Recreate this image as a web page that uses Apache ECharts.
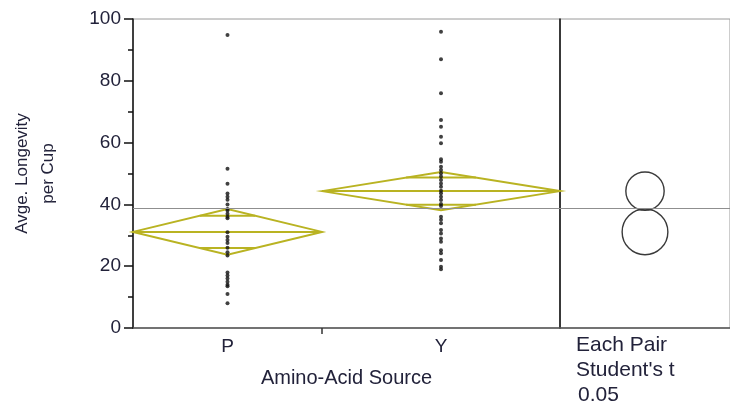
<!DOCTYPE html>
<html>
<head>
<meta charset="utf-8">
<script src="https://cdn.jsdelivr.net/npm/echarts@6/dist/echarts.min.js"></script>
<style>html,body{margin:0;padding:0;background:#fff;}#c{width:730px;height:404px;}</style>
</head>
<body>
<div id="c"></div>
<script>
// ---- data ----
const categories = ['P', 'Y'];
const groupCounts = [27, 34];
const pValues = [94.8, 51.5, 46.7, 43.5, 42.5, 41.5, 40, 38.5, 38, 37, 36, 35.5, 31, 29.5, 28.5, 27.5, 26, 24.5, 23.5, 18, 17, 16, 15, 14, 13.5, 11, 8];
const yValues = [95.9, 87, 76, 67.3, 65.1, 61.9, 59.8, 54.6, 53.8, 52.2, 51.1, 50.1, 49, 47.9, 46.8, 45.7, 44.4, 43.6, 42.5, 41.4, 40.1, 39.5, 36, 35, 33.9, 31.7, 30.6, 29, 27.9, 25.2, 24.2, 22, 19.8, 19];
const groupMeans = [31.1, 44.3];
const ciHalfWidths = [7.4, 6.2];
const grandMean = 38.9;
const yTickValues = [0, 20, 40, 60, 80, 100];
const testLabels = ['Each Pair', "Student's t", '0.05'];

// ---- build ----
const total = groupCounts.reduce((a, b) => a + b, 0);
const starts = [];
let acc = 0;
groupCounts.forEach(n => { starts.push(acc); acc += n; });
const centers = groupCounts.map((n, i) => starts[i] + n / 2);
const groupValues = [pValues, yValues];

const scatterData = [];
groupValues.forEach((vals, i) => vals.forEach(v => scatterData.push([centers[i], v])));

const diamondData = categories.map((c, i) => [starts[i], starts[i] + groupCounts[i], groupMeans[i], ciHalfWidths[i]]);
const circleData = categories.map((c, i) => [0.5, groupMeans[i], ciHalfWidths[i]]);

const font = 'Liberation Sans, Arial, sans-serif';
const textColor = '#22223a';
const diamondColor = '#b9b322';

const chart = echarts.init(document.getElementById('c'), null, {renderer: 'canvas'});
chart.setOption({
  animation: false,
  backgroundColor: '#fff',
  grid: [
    {left: 133, top: 19, width: 427, height: 309, show: true, borderColor: '#9a9a9a', borderWidth: 1},
    {left: 560, top: 19, width: 175, height: 309, show: true, borderColor: '#9a9a9a', borderWidth: 1}
  ],
  xAxis: [
    {
      gridIndex: 0, type: 'value', min: 0, max: total,
      axisLine: {show: true, onZero: false, lineStyle: {color: '#555', width: 1.5}},
      axisTick: {show: true, length: 6, customValues: [starts[1]], lineStyle: {color: '#333', width: 1.5}},
      axisLabel: {show: true, customValues: centers, margin: 9, fontSize: 19, fontFamily: font, color: textColor,
        formatter: v => { const i = centers.findIndex(c => Math.abs(c - v) < 1e-6); return i >= 0 ? categories[i] : ''; }},
      splitLine: {show: false},
      name: 'Amino-Acid Source', nameLocation: 'middle', nameGap: 40,
      nameTextStyle: {fontSize: 20, fontFamily: font, color: textColor}
    },
    {
      gridIndex: 1, type: 'value', min: 0, max: 1,
      axisLine: {show: true, onZero: false, lineStyle: {color: '#555', width: 1.5}},
      axisTick: {show: false}, axisLabel: {show: false}, splitLine: {show: false}
    }
  ],
  yAxis: [
    {
      gridIndex: 0, type: 'value', min: 0, max: 100, interval: 20,
      axisLine: {show: true, lineStyle: {color: '#111', width: 1.5}},
      axisTick: {show: true, length: 9, lineStyle: {color: '#111', width: 1.5}},
      minorTick: {show: true, splitNumber: 2, length: 5, lineStyle: {color: '#111', width: 1.5}},
      axisLabel: {margin: 12, fontSize: 19, fontFamily: font, color: textColor,
        formatter: v => yTickValues.includes(v) ? String(v) : ''},
      splitLine: {show: false},
      name: 'Avge. Longevity\nper Cup', nameLocation: 'middle', nameGap: 72,
      nameTextStyle: {fontSize: 17, fontFamily: font, color: textColor, lineHeight: 26}
    },
    {
      gridIndex: 1, type: 'value', min: 0, max: 100,
      axisLine: {show: true, lineStyle: {color: '#111', width: 1.5}},
      axisTick: {show: false}, axisLabel: {show: false}, splitLine: {show: false}
    }
  ],
  series: [
    {
      type: 'custom', xAxisIndex: 0, yAxisIndex: 0, data: diamondData, z: 3,
      renderItem: (params, api) => {
        const x0 = api.value(0), x1 = api.value(1), m = api.value(2), ci = api.value(3);
        const xc = (x0 + x1) / 2;
        const pL = api.coord([x0, m]), pR = api.coord([x1, m]);
        const pT = api.coord([xc, m + ci]), pB = api.coord([xc, m - ci]);
        const off = 1 - 1 / Math.SQRT2;
        const d = (x1 - x0) / 2 * off;
        const oU = ci / Math.SQRT2;
        const uL = api.coord([xc - d, m + oU]), uR = api.coord([xc + d, m + oU]);
        const lL = api.coord([xc - d, m - oU]), lR = api.coord([xc + d, m - oU]);
        const st = {stroke: diamondColor, lineWidth: 2, fill: null};
        return {type: 'group', children: [
          {type: 'polygon', shape: {points: [pL, pT, pR, pB]}, style: st},
          {type: 'line', shape: {x1: pL[0], y1: pL[1], x2: pR[0], y2: pR[1]}, style: st},
          {type: 'line', shape: {x1: uL[0], y1: uL[1], x2: uR[0], y2: uR[1]}, style: st},
          {type: 'line', shape: {x1: lL[0], y1: lL[1], x2: lR[0], y2: lR[1]}, style: st}
        ]};
      },
      markLine: {silent: true, symbol: 'none', label: {show: false},
        lineStyle: {color: '#8f8f8f', width: 1, type: 'solid'}, data: [{yAxis: grandMean}]}
    },
    {
      type: 'scatter', xAxisIndex: 0, yAxisIndex: 0, data: scatterData, z: 4,
      symbol: 'circle', symbolSize: 4, itemStyle: {color: '#111'}
    },
    {
      type: 'custom', xAxisIndex: 1, yAxisIndex: 1, data: circleData, z: 3,
      renderItem: (params, api) => {
        const c = api.coord([api.value(0), api.value(1)]);
        const r = api.size([0, api.value(2)])[1];
        return {type: 'circle', shape: {cx: c[0], cy: c[1], r: r}, style: {stroke: '#3a3a3a', lineWidth: 1.4, fill: null}};
      },
      markLine: {silent: true, symbol: 'none', label: {show: false},
        lineStyle: {color: '#8f8f8f', width: 1, type: 'solid'}, data: [{yAxis: grandMean}]}
    }
  ],
  graphic: testLabels.map((t, i) => ({
    type: 'text', left: i === 2 ? 578 : 576, top: 335 + i * 25,
    style: {text: t, fontSize: 21, fontFamily: font, fill: textColor}
  }))
});
</script>
</body>
</html>
